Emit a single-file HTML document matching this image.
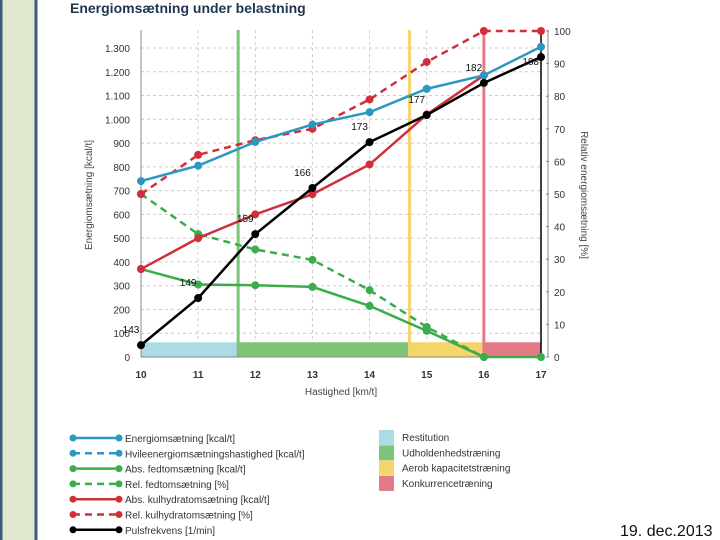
<!DOCTYPE html>
<html><head><meta charset="utf-8"><style>
html,body{margin:0;padding:0;background:#fff;}
svg{display:block;font-family:"Liberation Sans",sans-serif;}
</style></head><body>
<svg id="c" width="720" height="540" viewBox="0 0 720 540" xmlns="http://www.w3.org/2000/svg">
<rect x="1" y="-2" width="35" height="545" fill="#e0e8d0" stroke="#3d5a80" stroke-width="3"/>
<text x="70" y="13" font-size="14" font-weight="bold" fill="#1f3550">Energiomsætning under belastning</text>
<g id="grid"></g><g id="bands"></g><g id="axes"></g><g id="series"></g><g id="legend"></g>
<text transform="translate(92,195) rotate(-90)" text-anchor="middle" font-size="10" fill="#444">Energiomsætning [kcal/t]</text>
<text transform="translate(581,195) rotate(90)" text-anchor="middle" font-size="10" fill="#444">Relativ energiomsætning [%]</text>
<text x="341" y="395" text-anchor="middle" font-size="10" fill="#444">Hastighed [km/t]</text>
<text x="620" y="536" font-size="16" fill="#111">19. dec.2013</text>
</svg>
<script>
const xCats=[10,11,12,13,14,15,16,17];
const energi=[740,805,905,978,1030,1128,1185,1305];
const puls=[50,248,517,711,904,1018,1153,1262];
const pulsLabels=["143","149","159","166","173","177","182","188"];
const kulAbs=[370,500,600,685,810,1020,1185];
const kulRel=[50,62,66.5,70,79,90.5,100,100];
const fedRel=[50,37.7,33,29.8,20.5,9.2,0];
const fedAbs=[370,305,302,295,215,110,0,0];
const leftTicks=[0,100,200,300,400,500,600,700,800,900,1000,1100,1200,1300];
const leftTickLabels=["0","100","200","300","400","500","600","700","800","900","1.000","1.100","1.200","1.300"];
const rightTicks=[0,10,20,30,40,50,60,70,80,90,100];
const zoneBounds=[10,11.7,14.7,16,17];
const zoneColors=["#acdbe6","#7cc476","#f6d46c","#e47a86"];
const zoneNames=["Restitution","Udholdenhedstræning","Aerob kapacitetstræning","Konkurrencetræning"];
const NS="http://www.w3.org/2000/svg";
const X=v=>141+(v-10)*400/7;
const YL=v=>357-v*0.2377;
const YR=v=>357-v*3.26;
function mk(p,t,a){const e=document.createElementNS(NS,t);for(const k in a)e.setAttribute(k,a[k]);p.appendChild(e);return e;}
const G=id=>document.getElementById(id);
// grid
xCats.forEach(v=>{if(v>10&&v<17){const l=mk(G('grid'),'line',{x1:X(v),x2:X(v),y1:30,y2:357,stroke:'#ccc','stroke-dasharray':'3,3'});

}});
leftTicks.forEach((v,i)=>{if(v>0){const l=mk(G('grid'),'line',{x1:141,x2:541,y1:YL(v),y2:YL(v),stroke:'#ccc','stroke-dasharray':'3,3'});

}
const t=mk(G('axes'),'text',{x:130,y:YL(v)+4,'text-anchor':'end','font-size':10,fill:'#333'});t.textContent=leftTickLabels[i];

});
rightTicks.forEach(v=>{const t=mk(G('axes'),'text',{x:554,y:YR(v)+4,'font-size':10,fill:'#333'});t.textContent=v;


mk(G('axes'),'line',{x1:546,x2:549,y1:YR(v),y2:YR(v),stroke:'#888'});});
xCats.forEach(v=>{const t=mk(G('axes'),'text',{x:X(v),y:378,'text-anchor':'middle','font-size':10,'font-weight':'bold',fill:'#333'});t.textContent=v;

});
// bands + vertical lines
zoneColors.forEach((c,i)=>{const r=mk(G('bands'),'rect',{x:X(zoneBounds[i]),y:YL(62),width:X(zoneBounds[i+1])-X(zoneBounds[i]),height:YL(0)-YL(62),fill:c});


if(i>0){const l=mk(G('bands'),'line',{x1:X(zoneBounds[i]),x2:X(zoneBounds[i]),y1:30,y2:357,stroke:c,'stroke-width':3});

}});
mk(G('axes'),'line',{x1:141,x2:141,y1:30,y2:357,stroke:'#888'});
mk(G('axes'),'line',{x1:141,x2:541,y1:357,y2:357,stroke:'#888'});
mk(G('axes'),'line',{x1:541,x2:541,y1:30,y2:357,stroke:'#000','stroke-width':1.5});
mk(G('axes'),'line',{x1:548,x2:548,y1:30,y2:357,stroke:'#888'});
function series(vals,Y,color,dash,name){
const pts=vals.map((v,i)=>X(xCats[i])+','+Y(v)).join(' ');
const pl=mk(G('series'),'polyline',{points:pts,fill:'none',stroke:color,'stroke-width':2.5,'stroke-dasharray':dash?'7,5':'none'});


vals.forEach((v,i)=>{const c=mk(G('series'),'circle',{cx:X(xCats[i]),cy:Y(v),r:4,fill:color});

});}
series(fedRel,YR,'#3aad4a',true,'rel-fat');
series(fedAbs,YL,'#3aad4a',false,'abs-fat');
series(kulRel,YR,'#d02f3c',true,'rel-carb');
series(kulAbs,YL,'#d02f3c',false,'abs-carb');
series(energi,YL,'#2b98c2',false,'energy');
series(puls,YL,'#000',false,'pulse');
puls.forEach((v,i)=>{const t=mk(G('series'),'text',{x:X(xCats[i])-(i==7?2:10),y:YL(v)-(i==7?-8:12),'text-anchor':i==7?'end':'middle','font-size':10,fill:'#111'});t.textContent=pulsLabels[i];

});
// legend
const legNames=["Energiomsætning [kcal/t]","Hvileenergiomsætningshastighed  [kcal/t]","Abs. fedtomsætning [kcal/t]","Rel. fedtomsætning [%]","Abs. kulhydratomsætning [kcal/t]","Rel. kulhydratomsætning [%]","Pulsfrekvens [1/min]"];
const legCol=['#2b98c2','#2b98c2','#3aad4a','#3aad4a','#d02f3c','#d02f3c','#000'];
const legDash=[0,1,0,1,0,1,0];
legNames.forEach((n,i)=>{const y=438+i*15.3;
const l=mk(G('legend'),'line',{x1:73,x2:119,y1:y,y2:y,stroke:legCol[i],'stroke-width':2.5,'stroke-dasharray':legDash[i]?'7,5':'none'});


mk(G('legend'),'circle',{cx:73,cy:y,r:3.5,fill:legCol[i]});mk(G('legend'),'circle',{cx:119,cy:y,r:3.5,fill:legCol[i]});
const t=mk(G('legend'),'text',{x:125,y:y+4,'font-size':10,fill:'#333'});t.textContent=n;

});
zoneNames.forEach((n,i)=>{const y=430+i*15.3;
const r=mk(G('legend'),'rect',{x:379,y:y,width:15,height:15,fill:zoneColors[i]});


const t=mk(G('legend'),'text',{x:402,y:y+11,'font-size':10,fill:'#333'});t.textContent=n;

});
</script>
</body></html>
